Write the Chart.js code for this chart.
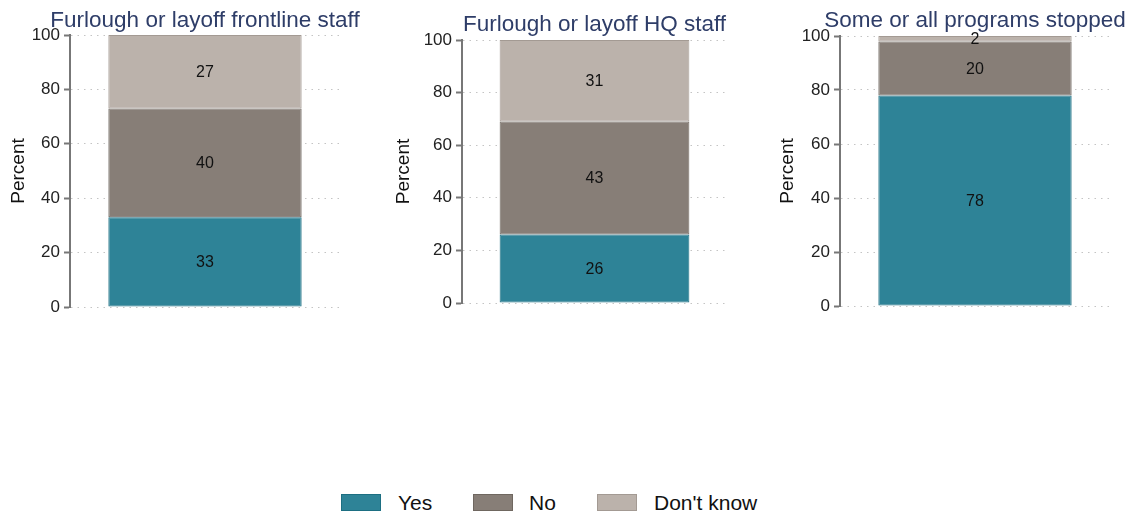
<!DOCTYPE html>
<html>
<head>
<meta charset="utf-8">
<script src="https://cdn.jsdelivr.net/npm/chart.js@4.4.0/dist/chart.umd.min.js"></script>
<style>
  body { margin: 0; background: #fff; width: 1135px; height: 514px; position: relative; overflow: hidden; font-family: "Liberation Sans", Arial, Helvetica, sans-serif; }
  canvas { position: absolute; top: 0; }
  .legend-box { position: absolute; top: 494px; width: 38px; height: 15px; border: 1px solid; }
  .legend-text { position: absolute; top: 491px; font-size: 21px; line-height: 24px; color: #111; }
</style>
</head>
<body>
<canvas id="panel0"></canvas>
<canvas id="panel1"></canvas>
<canvas id="panel2"></canvas>

<div class="legend-box" style="left:341px; background:#2e8397; border-color:#1d6f82;"></div>
<div class="legend-text" style="left:398px;">Yes</div>
<div class="legend-box" style="left:473px; background:#877e77; border-color:#6f6760;"></div>
<div class="legend-text" style="left:529px;">No</div>
<div class="legend-box" style="left:597px; background:#bbb2ab; border-color:#a39a93;"></div>
<div class="legend-text" style="left:654px;">Don't know</div>

<script>
const panelTitles = ['Furlough or layoff frontline staff', 'Furlough or layoff HQ staff', 'Some or all programs stopped'];
const seriesNames = ['Yes', 'No', "Don't know"];
const yesValues = [33, 26, 78];
const noValues = [40, 43, 20];
const dontKnowValues = [27, 31, 2];
const yTickValues = [0, 20, 40, 60, 80, 100];

const fillColors = ['#2e8397', '#877e77', '#bbb2ab'];
const edgeColors = ['#1d6f82', '#6f6760', '#a39a93'];
const fontFamily = '"Liberation Sans", Arial, Helvetica, sans-serif';

// canvas placement for each panel
const layout = [
    { left: 0, width: 372, padRight: 32, height: 324, padLeft: 7, axisWidth: 63, padTop: 35, titleBase: 27 },
    { left: 378, width: 370, padRight: 21, height: 320, padLeft: 14, axisWidth: 70, padTop: 40, titleBase: 31 },
    { left: 760, width: 375, padRight: 25, height: 323, padLeft: 16, axisWidth: 64, padTop: 36, titleBase: 27 }
];

const barLabels = {
    id: 'barLabels',
    afterDatasetsDraw(chart) {
        const ctx = chart.ctx;
        ctx.save();
        ctx.font = '16px ' + fontFamily;
        ctx.fillStyle = '#111';
        ctx.textAlign = 'center';
        ctx.textBaseline = 'middle';
        chart.data.datasets.forEach(function(ds, i) {
            chart.getDatasetMeta(i).data.forEach(function(bar, j) {
                const v = ds.data[j];
                ctx.fillText(String(v), bar.x, (bar.y + bar.base) / 2 + 1);
            });
        });
        ctx.restore();
    }
};

// panel title centred over the plot area, allowed to run past it
const panelTitle = {
    id: 'panelTitle',
    afterDraw(chart, args, opts) {
        const ctx = chart.ctx;
        const area = chart.chartArea;
        ctx.save();
        ctx.font = '22.5px ' + fontFamily;
        ctx.fillStyle = '#2e3d68';
        ctx.textAlign = 'center';
        ctx.textBaseline = 'alphabetic';
        ctx.fillText(opts.text, (area.left + area.right) / 2, opts.baseline);
        ctx.restore();
    }
};

function drawPanel(idx) {
    const lay = layout[idx];
    const canvas = document.getElementById('panel' + idx);
    canvas.width = lay.width;
    canvas.height = lay.height;
    canvas.style.left = lay.left + 'px';

    const values = [yesValues[idx], noValues[idx], dontKnowValues[idx]];

    new Chart(canvas.getContext('2d'), {
        type: 'bar',
        data: {
            labels: [''],
            datasets: values.map(function(v, i) {
                return {
                    label: seriesNames[i],
                    data: [v],
                    backgroundColor: fillColors[i],
                    borderColor: edgeColors[i],
                    borderWidth: 1,
                    borderSkipped: false,
                    barPercentage: 0.716,
                    categoryPercentage: 1
                };
            })
        },
        options: {
            responsive: false,
            animation: false,
            layout: { padding: { left: lay.padLeft, right: lay.padRight, top: lay.padTop, bottom: 17 } },
            scales: {
                x: { stacked: true, display: false },
                y: {
                    stacked: true,
                    min: 0,
                    max: 100,
                    afterBuildTicks: function(scale) {
                        scale.ticks = yTickValues.map(function(v) { return { value: v }; });
                    },
                    afterFit: function(scale) {
                        scale.width = lay.axisWidth;
                    },
                    ticks: {
                        color: '#222',
                        padding: 4,
                        font: { size: 17, family: fontFamily }
                    },
                    grid: {
                        color: '#c4c4c4',
                        lineWidth: 1,
                        tickLength: 6,
                        tickColor: '#777',
                        tickWidth: 2
                    },
                    border: {
                        color: '#777',
                        width: 2,
                        dash: [1.5, 5]
                    },
                    title: {
                        display: true,
                        text: 'Percent',
                        color: '#111',
                        padding: { top: 0, bottom: 0 },
                        font: { size: 19, family: fontFamily }
                    }
                }
            },
            plugins: {
                legend: { display: false },
                tooltip: { enabled: false },
                title: { display: false },
                panelTitle: { text: panelTitles[idx], baseline: lay.titleBase }
            }
        },
        plugins: [barLabels, panelTitle]
    });
}

for (let i = 0; i < panelTitles.length; i++) {
    drawPanel(i);
}
</script>
</body>
</html>
